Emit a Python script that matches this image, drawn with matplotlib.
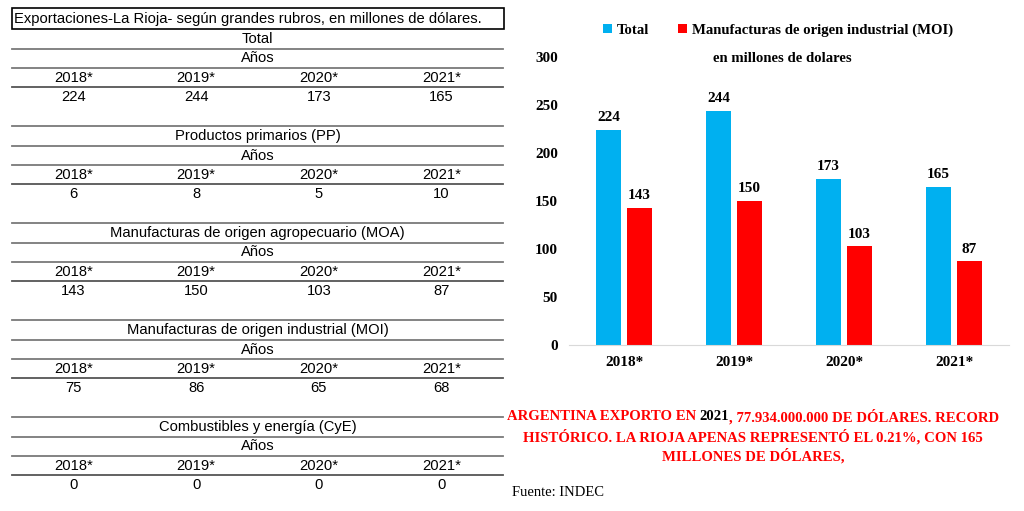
import matplotlib
matplotlib.use('Agg')
import matplotlib.pyplot as plt
import numpy as np

# datos
anios = ['2018*', '2019*', '2020*', '2021*']
total = [224, 244, 173, 165]
pp = [6, 8, 5, 10]
moa = [143, 150, 103, 87]
moi = [75, 86, 65, 68]
cye = [0, 0, 0, 0]

rubros = ['Total', 'Productos primarios (PP)', 'Manufacturas de origen agropecuario (MOA)',
          'Manufacturas de origen industrial (MOI)', 'Combustibles y energía (CyE)']
tablas = [total, pp, moa, moi, cye]

# la serie roja del grafico (toma los valores de MOA, como el original)
serie_roja = moa
leyenda = ['Total', 'Manufacturas de origen industrial (MOI)']

AZUL = '#00B0F0'
ROJO = '#FF0000'
SANS = 'Liberation Sans'
SERIF = 'Liberation Serif'

W, H = 1024, 511
fig = plt.figure(figsize=(W / 100, H / 100), dpi=100)

# capa de la tabla en pixeles
tab = fig.add_axes([0, 0, 1, 1])
tab.set_xlim(0, W)
tab.set_ylim(H, 0)
tab.axis('off')

x0, x1 = 12, 503
col_w = (x1 - x0) / 4
fs_tab = 10.6
gris = '#7a7a7a'

tab.add_patch(plt.Rectangle((x0, 8), 504 - x0, 21, fill=False, ec='black', lw=1.2))
tab.text(x0 + 2, 18.5, 'Exportaciones-La Rioja- según grandes rubros, en millones de dólares.',
         ha='left', va='center', fontsize=fs_tab, family=SANS)

for i, (rubro, vals) in enumerate(zip(rubros, tablas)):
    top = 29 + 97 * i
    if i > 0:
        tab.plot([x0, x1], [top, top], color=gris, lw=1.3)
    tab.text((x0 + x1) / 2, top + 10, rubro, ha='center', va='center', fontsize=fs_tab, family=SANS)
    tab.plot([x0, x1], [top + 20, top + 20], color=gris, lw=1.3)
    tab.text((x0 + x1) / 2, top + 29.5, 'Años', ha='center', va='center', fontsize=fs_tab, family=SANS)
    tab.plot([x0, x1], [top + 39, top + 39], color=gris, lw=1.3)
    for j, a in enumerate(anios):
        cx = x0 + col_w * (j + 0.5)
        tab.text(cx, top + 49, a, ha='center', va='center', fontsize=fs_tab, family=SANS)
        tab.text(cx, top + 68, str(vals[j]), ha='center', va='center', fontsize=fs_tab, family=SANS)
    tab.plot([x0, x1], [top + 58, top + 58], color='#555555', lw=1.3)

# grafico de barras
ax = fig.add_axes([569 / W, 1 - 345 / H, 440 / W, (345 - 57) / H])
x = np.arange(len(anios))
bw = 0.227
off = 0.14
b1 = ax.bar(x - off, total, bw, color=AZUL, label=leyenda[0])
b2 = ax.bar(x + off, serie_roja, bw, color=ROJO, label=leyenda[1])
ax.set_xlim(-0.5, len(anios) - 0.5)
ax.set_ylim(0, 300)
ax.set_yticks(range(0, 301, 50))
ax.set_xticks(x)
ax.set_xticklabels(anios)
for s in ['top', 'right', 'left']:
    ax.spines[s].set_visible(False)
ax.spines['bottom'].set_color('#d9d9d9')
ax.tick_params(length=0, labelsize=11)
ax.tick_params(axis='y', pad=8)
ax.tick_params(axis='x', pad=8)
for lab in ax.get_xticklabels() + ax.get_yticklabels():
    lab.set_family(SERIF)
    lab.set_fontweight('bold')
for bars in (b1, b2):
    for r in bars:
        ax.annotate(str(int(r.get_height())), (r.get_x() + r.get_width() / 2, r.get_height()),
                    xytext=(0, 4), textcoords='offset points', ha='center', va='bottom',
                    fontsize=11, fontweight='bold', family=SERIF)

fig.legend(handles=[b1, b2], labels=leyenda, loc='center', bbox_to_anchor=(778 / W, 1 - 30 / H),
           ncol=2, frameon=False, handlelength=0.6, handleheight=0.6, handletextpad=0.3,
           columnspacing=2.0, prop={'family': SERIF, 'weight': 'bold', 'size': 10.6})
fig.text(782 / W, 1 - 58 / H, 'en millones de dolares', ha='center', va='center',
         fontsize=10.6, fontweight='bold', family=SERIF)

# texto rojo con "2021" en negro
fs_red = 10.6
renderer = fig.canvas.get_renderer()
partes = [('ARGENTINA EXPORTO EN ', ROJO), ('2021', 'black'), (', 77.934.000.000 DE DÓLARES. RECORD', ROJO)]
completo = ''.join(p for p, _ in partes)
tmp = tab.text(0, 0, completo, fontsize=fs_red, fontweight='bold', family=SERIF)
ancho = tmp.get_window_extent(renderer).width
tmp.remove()
xs = 753 - ancho / 2
prev = None
for p, c in partes:
    if prev is None:
        prev = tab.text(xs, 417, p, ha='left', va='center', color=c, fontsize=fs_red,
                        fontweight='bold', family=SERIF)
    else:
        prev = tab.annotate(p, xy=(1, 0.5), xycoords=prev, ha='left', va='center', color=c,
                            fontsize=fs_red, fontweight='bold', family=SERIF)
tab.text(753, 437, 'HISTÓRICO. LA RIOJA APENAS REPRESENTÓ EL 0.21%, CON 165', ha='center', va='center',
         color=ROJO, fontsize=fs_red, fontweight='bold', family=SERIF)
tab.text(753, 455.5, 'MILLONES DE DÓLARES,', ha='center', va='center',
         color=ROJO, fontsize=fs_red, fontweight='bold', family=SERIF)
tab.text(512, 492, 'Fuente: INDEC', ha='left', va='center', fontsize=10.5, family=SERIF)

fig.savefig('out.png', dpi=100)
